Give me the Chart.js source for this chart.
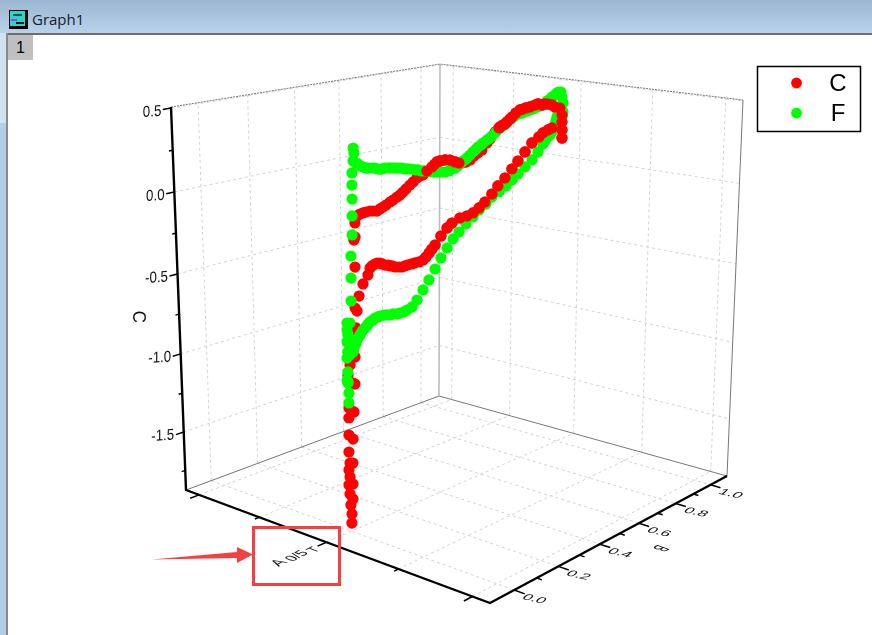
<!DOCTYPE html><html><head><meta charset="utf-8"><style>
html,body{margin:0;padding:0;background:#fff;overflow:hidden}
#win{position:relative;width:872px;height:635px;overflow:hidden;background:#fff}
#bar{position:absolute;left:0;top:0;width:872px;height:33px;background:linear-gradient(#9bb5d2,#b9d2ec)}
#strip{position:absolute;left:0;top:33px;width:6px;height:90px;background:#d3e2f1}
#strip2{position:absolute;left:0;top:123px;width:6px;height:512px;background:#b5cee8}
#edgeT{position:absolute;left:6px;top:33px;width:866px;height:2px;background:#6f6f6f}
#edgeL{position:absolute;left:6px;top:33px;width:2px;height:602px;background:#8a8a8a}
#title{position:absolute;left:32px;top:10px;font:15px/18px "Open Sans",sans-serif;color:#16202e}
#tab{position:absolute;left:8px;top:35px;width:25px;height:25px;background:#bfbfbf;font:16px/25px "Liberation Sans",sans-serif;text-align:center;color:#000}
#ico{position:absolute;left:9px;top:10px;width:15px;height:15px;background:#27d6c8;border:1px solid #000;border-right:3px solid #000;border-bottom:3px solid #000}
#ico i{position:absolute;height:2px;display:block}
canvas{position:absolute;left:0;top:0}
svg{position:absolute;left:0;top:0}
</style></head><body><div id="win">
<div id="bar"></div><div id="strip"></div><div id="strip2"></div><div id="edgeT"></div><div id="edgeL"></div>
<div id="ico"><i style="left:3px;top:3px;width:9px;background:#1a5a50"></i><i style="left:1px;top:8px;width:6px;background:#e020e0"></i><i style="left:6px;top:11px;width:8px;background:#111"></i></div>
<div id="title">Graph1</div><div id="tab">1</div>
<canvas id="c" width="872" height="635"></canvas>
<svg width="872" height="635"><rect x="253.5" y="527.5" width="86" height="57" fill="none" stroke="#f44040" stroke-width="3"/><polygon points="152,559.5 237,552 237,547 253,554.5 237,563 237,558" fill="#f44040"/></svg>
</div>
<script src="https://cdn.jsdelivr.net/npm/chart.js@4"></script>
<script>
const seriesNames=['C','F'];
const cTicks=[0.5,0,-0.5,-1,-1.5], cMinor=[0.25,-0.25,-0.75,-1.25,-1.75], cRange=[-1.879,0.5064];
const bTicks=[0,0.2,0.4,0.6,0.8,1], bMinor=[0.1,0.3,0.5,0.7,0.9], bRange=[-0.1042,1.0988];
const aTicks=[0.05,0.27,0.5,0.73,0.95], aMajor=[0.05,0.5,0.95], aRange=[0,1], aValue=0.5;
const aTitleParts=['T','0/5','A'];
const cB=[.003,.004,0,.009,-.003,.01,-.007,-.002,-.006,.011,-.001,-.005,.013,-.004,-.003,.019,-.002,.024,.016,-.004,.005,.026,.023,.032,.029,.037,.046,.031,.028,.033,.033,.063,.084,.093,.101,.114,.123,.135,.144,.156,.169,.178,.186,.199,.216,.229,.243,.256,.273,.287,.305,.323,.336,.35,.363,.377,.404,.432,.455,.492,.525,.554,.583,.611,.645,.674,.709,.743,.773,.808,.843,.879,.9,.926,.947,1.001,1,.999,.999,.987,.961,.945,.924,.908,.892,.872,.856,.831,.81,.795,.78,.76,.741,.731,.716,.706,.696,.682,.677,.658,.634,.619,.595,.576,.557,.539,.52,.501,.487,.468,.445,.423,.4,.386,.377,.364,.341,.324,.31,.297,.28,.266,.249,.236,.223,.21,.193,.18,.163,.15,.137,.125,.108,.096,.079,.067,.054,.042];
const cC=[-1.83,-1.774,-1.716,-1.684,-1.646,-1.592,-1.588,-1.542,-1.497,-1.464,-1.457,-1.388,-1.319,-1.285,-1.183,-1.158,-1.123,-.993,-.983,-.925,-.87,-.833,-.719,-.663,-.545,-.566,-.482,-.307,-.15,-.134,-.054,-.418,-.374,-.337,-.328,-.322,-.319,-.324,-.333,-.344,-.349,-.358,-.361,-.372,-.379,-.384,-.383,-.382,-.383,-.382,-.383,-.378,-.365,-.346,-.327,-.308,-.263,-.224,-.202,-.184,-.183,-.174,-.153,-.126,-.087,-.046,-.007,.039,.08,.127,.174,.202,.222,.234,.241,.162,.214,.265,.311,.358,.371,.388,.399,.403,.4,.412,.409,.403,.402,.399,.397,.383,.363,.353,.339,.329,.325,.317,.312,.293,.256,.236,.2,.187,.174,.155,.148,.148,.152,.164,.182,.189,.19,.188,.178,.165,.148,.13,.128,.12,.102,.088,.071,.057,.044,.036,.024,.017,.005,-.002,-.009,-.017,-.011,-.007,-.007,-.008,-.01,-.017];
const fB=[.03,.033,.029,.041,.049,.061,.069,.081,.089,.106,.118,.131,.139,.147,.16,.177,.19,.202,.215,.232,.245,.258,.275,.289,.302,.315,.328,.346,.364,.377,.391,.404,.423,.441,.455,.469,.482,.496,.506,.52,.529,.538,.553,.567,.576,.59,.6,.619,.633,.643,.662,.682,.701,.716,.736,.755,.77,.79,.801,.816,.831,.841,.856,.867,.882,.892,.908,.918,.934,.944,.96,.97,.981,.991,.997,1.003,1.004,.999,.977,.972,.967,.962,.952,.947,.937,.926,.911,.901,.875,.845,.809,.774,.744,.714,.68,.645,.616,.583,.554,.521,.488,.46,.432,.404,.377,.349,.322,.295,.273,.25,.237,.219,.206,.189,.176,.163,.15,.133,.124,.112,.103,.09,.082,.078,.069,.061,.052,.048,.039,.035,.031,.027,.022,.018,.005,-.005,.007,-.005,-.002,-.006,.006,-.003,-.007,.001,-.004,-.004,-.005,-.001,-.002,-.008,.013,.014,.015,.021,.022,.023,.023,.024];
const fC=[.371,.342,.299,.284,.276,.261,.253,.244,.241,.236,.232,.223,.22,.218,.22,.215,.211,.207,.203,.198,.189,.185,.179,.17,.166,.156,.152,.146,.135,.131,.127,.123,.117,.118,.126,.127,.135,.149,.159,.167,.176,.185,.2,.214,.223,.231,.241,.254,.262,.272,.291,.311,.324,.339,.352,.366,.374,.375,.379,.382,.384,.388,.39,.394,.397,.4,.409,.419,.428,.438,.447,.458,.461,.459,.426,.386,.328,.298,.335,.304,.28,.256,.239,.215,.199,.189,.168,.151,.108,.066,.032,-.002,-.03,-.059,-.085,-.106,-.14,-.166,-.199,-.231,-.269,-.301,-.346,-.397,-.454,-.51,-.56,-.61,-.643,-.652,-.658,-.657,-.657,-.649,-.65,-.644,-.639,-.637,-.639,-.64,-.648,-.654,-.662,-.672,-.68,-.688,-.702,-.712,-.726,-.736,-.752,-.762,-.783,-.799,-.811,-.618,-.623,-.659,-.69,-.729,-.764,-.789,-.823,-.809,-.907,-.966,-.972,-1.034,-1.093,-.953,-.497,-.364,-.237,-.118,-.01,.086,.165,.233];

// view: perspective camera matrix plus the box corners it is pinned to
const P=[233.184641,326.709193,-24.188395,186.312395,26.047878,-28.874264,-390.571948,490.967225,-0.142204,0.168181,-0.054894];
const base=(u,v,w)=>{const d=P[8]*u+P[9]*v+P[10]*w+1;return [(P[0]*u+P[1]*v+P[2]*w+P[3])/d,(P[4]*u+P[5]*v+P[6]*w+P[7])/d];};
const boxCorners=[[0,0,0,186,490],[1,0,0,490,603],[1,1,0,727,476],[0,1,0,439,396],[0,0,1,171,107],[0,1,1,440,64],[1,1,1,743,100]];
const res=boxCorners.map(c=>{const b=base(c[0],c[1],c[2]);return [c[0],c[1],c[2],c[3]-b[0],c[4]-b[1]];});
const prj=(u,v,w)=>{const b=base(u,v,w);let dx=0,dy=0;for(const r of res){const t=(r[0]?u:1-u)*(r[1]?v:1-v)*(r[2]?w:1-w);dx+=t*r[3];dy+=t*r[4];}return {x:b[0]+dx,y:b[1]+dy};};
const nA=a=>(a-aRange[0])/(aRange[1]-aRange[0]),nB=b=>(b-bRange[0])/(bRange[1]-bRange[0]),nC=c=>(c-cRange[0])/(cRange[1]-cRange[0]);
const gap={x:NaN,y:NaN};
const segs=l=>l.flatMap(s=>[prj(...s[0]),prj(...s[1]),gap]);
const gridSegs=[];
for(const c of cTicks){gridSegs.push([[0,0,nC(c)],[0,1,nC(c)]],[[0,1,nC(c)],[1,1,nC(c)]]);}
for(const b of bTicks){gridSegs.push([[0,nB(b),0],[0,nB(b),1]],[[0,nB(b),0],[1,nB(b),0]]);}
for(const a of aTicks){gridSegs.push([[nA(a),1,0],[nA(a),1,1]],[[nA(a),0,0],[nA(a),1,0]]);}
const tickSegs=[];
for(const c of cTicks)tickSegs.push([[0,0,nC(c)],[0,-0.026,nC(c)]]);
for(const c of cMinor)tickSegs.push([[0,0,nC(c)],[0,-0.012,nC(c)]]);
for(const b of bTicks)tickSegs.push([[1,nB(b),0],[1.03,nB(b),0]]);
for(const b of bMinor)tickSegs.push([[1,nB(b),0],[1.015,nB(b),0]]);
for(const a of aTicks)tickSegs.push([[nA(a),0,0],[nA(a),aMajor.includes(a)?-0.03:-0.015,0]]);
const line=(label,data,color,width,dash,order)=>({label,data,showLine:true,borderColor:color,borderWidth:width,borderDash:dash,pointRadius:0,spanGaps:false,order,borderCapStyle:'butt',fill:false});
const dots=(label,b,c,color,order)=>({label,data:b.map((v,i)=>prj(nA(aValue),nB(v),nC(c[i]))),showLine:false,pointRadius:5.6,pointHoverRadius:5.6,pointBorderWidth:0,pointBackgroundColor:color,backgroundColor:color,borderColor:color,order});
// C points that sit in front of F: the right-hand part of the loop, except the stretch of the upper branch where F passes over it
const frontIdx=cB.map((b,i)=>(b>=0.335&&!(b>=0.49&&b<=0.67&&cC[i]>0.1))?i:-1).filter(i=>i>=0);
const colors={C:'#ff0000',F:'#00ff00'};
const textPlugin={id:'labels3d',afterDraw(ch){const x=ch.ctx;
 const put=(s,px,py,m,font)=>{x.save();x.font=font;x.fillStyle='#111';x.textAlign='center';x.textBaseline='middle';x.translate(px,py);x.transform(m[0],m[1],m[2],m[3],0,0);x.fillText(s,0,0);x.restore();};
 const f=n=>n+'px "Liberation Sans"';
 const cm=[0.95,-0.07,0,1.12];
 cTicks.forEach(c=>{const p=prj(0,0,nC(c));put(c.toFixed(1),p.x-(c<0?21:19),p.y+4,cm,f(14));});
 put('C',138,317,[0,1,-1.05,0],f(17));
 const bm=[1.05,0.24,-0.55,0.5];
 bTicks.forEach(b=>{const p=prj(1,nB(b),0);put(b.toFixed(1),p.x+20,p.y+9,bm,f(15));});
 put('B',660,548,[-0.6,0.32,-1.1,-0.4],f(16));
 const am=[0.75,-0.38,0.85,0.32];
 put(aTitleParts[0],314,550,am,f(15));put(aTitleParts[1],297,556,am,f(16));put(aTitleParts[2],279,563,am,f(18));
 x.save();x.fillStyle='#fff';x.strokeStyle='#000';x.lineWidth=1.5;x.fillRect(757.5,66.5,103,65);x.strokeRect(757.5,66.5,103,65);
 seriesNames.forEach((n,i)=>{const y=83+30*i;x.fillStyle=colors[n];x.beginPath();x.arc(796.5,y,5.4,0,7);x.fill();x.fillStyle='#000';x.font='24px "Liberation Sans"';x.textAlign='center';x.textBaseline='middle';x.fillText(n,838,y+1);});
 x.restore();
}};
new Chart(document.getElementById('c'),{type:'scatter',plugins:[textPlugin],data:{datasets:[
 line('grid',segs(gridSegs),'#d2d2d2',1,[3,3],100),
 line('top edge',[prj(0,0,1),prj(0,1,1),prj(1,1,1)],'#777777',1,[2,1],90),
 line('back edge',[prj(0,1,0),prj(0,1,1)],'#bdbdbd',1.6,[],91),
 line('floor edge',[prj(0,0,0),prj(0,1,0),prj(1,1,0),prj(1,1,1)],'#777777',1,[],92),
 line('axes',[prj(0,0,1),prj(0,0,0),prj(1,0,0),prj(1,1,0)],'#000000',2.4,[],10),
 line('ticks',segs(tickSegs),'#000000',1.5,[],11),
 dots(seriesNames[0],cB,cC,colors.C,5),
 dots(seriesNames[1],fB,fC,colors.F,4),
 dots(seriesNames[0],frontIdx.map(i=>cB[i]),frontIdx.map(i=>cC[i]),colors.C,3)
]},options:{responsive:false,animation:false,devicePixelRatio:1,layout:{padding:0,autoPadding:false},events:[],
 plugins:{legend:{display:false},tooltip:{enabled:false},title:{display:false}},
 scales:{x:{type:'linear',min:0,max:872,display:false},y:{type:'linear',min:0,max:635,reverse:true,display:false}}}});
</script></body></html>
